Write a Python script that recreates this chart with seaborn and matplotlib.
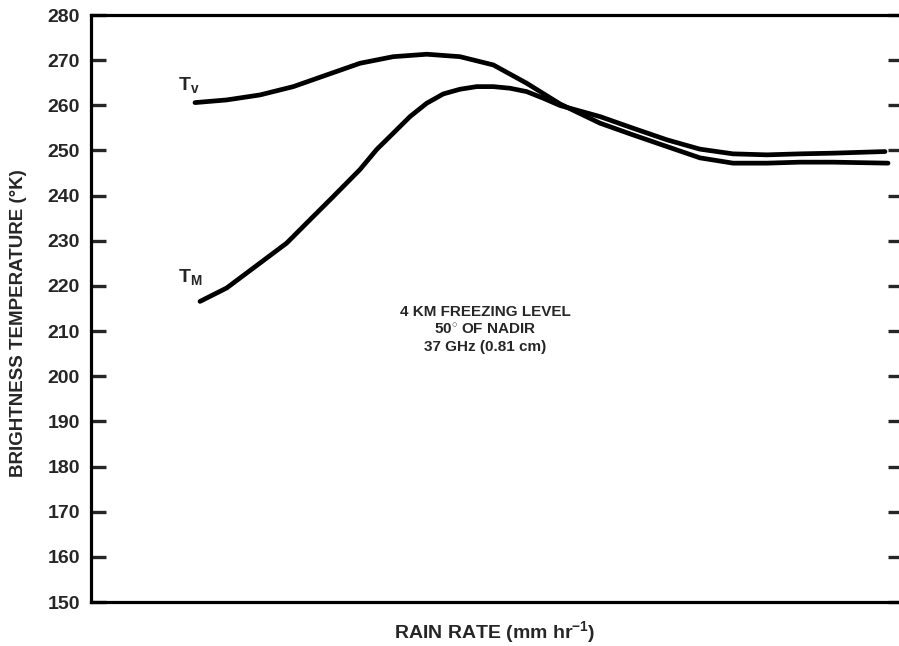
import matplotlib
matplotlib.use("Agg")
import matplotlib.pyplot as plt
import seaborn as sns
import pandas as pd

# Data (x: arbitrary rain-rate units, 0..100 across the axis)
tv_x = [12.87, 16.79, 20.92, 25.04, 29.17, 33.29, 37.41, 41.55, 45.67, 49.79, 53.92, 58.04,
        63.00, 67.08, 71.29, 75.37, 79.46, 83.66, 87.75, 91.83, 98.64]
tv_y = [260.60, 261.19, 262.30, 264.14, 266.73, 269.31, 270.77, 271.31, 270.77, 268.94, 264.89, 260.31,
        256.04, 253.45, 250.86, 248.36, 247.19, 247.19, 247.41, 247.41, 247.19]
tm_x = [13.49, 16.79, 20.92, 24.22, 27.10, 29.99, 33.29, 35.36, 37.41, 39.48, 41.55, 43.60, 45.67,
        47.74, 49.79, 51.86, 53.92, 55.98, 58.04, 63.00, 67.08, 71.29, 75.37, 79.46, 83.66, 87.75,
        91.83, 98.27]
tm_y = [216.57, 219.54, 225.07, 229.49, 234.65, 239.80, 245.78, 250.22, 253.83, 257.50, 260.46, 262.52,
        263.56, 264.14, 264.14, 263.78, 263.03, 261.57, 259.96, 257.50, 254.93, 252.35, 250.29, 249.25,
        249.03, 249.25, 249.40, 249.76]
y_ticks = [150, 160, 170, 180, 190, 200, 210, 220, 230, 240, 250, 260, 270, 280]

sns.set_style("white")
plt.rcParams['font.family'] = ['Liberation Sans', 'DejaVu Sans']
plt.rcParams['mathtext.fontset'] = 'custom'
plt.rcParams['mathtext.rm'] = 'Liberation Sans:bold'
plt.rcParams['mathtext.bf'] = 'Liberation Sans:bold'
plt.rcParams['mathtext.default'] = 'bf'

df = pd.concat([
    pd.DataFrame({"x": tv_x, "y": tv_y, "s": "TV"}),
    pd.DataFrame({"x": tm_x, "y": tm_y, "s": "TM"}),
])

fig = plt.figure(figsize=(8.99, 6.46), dpi=100)
ax = fig.add_axes([91/899, 1-602/646, 1-91/899, (602-15)/646])
sns.lineplot(data=df, x="x", y="y", units="s", estimator=None, sort=False,
             color="black", linewidth=3.4, ax=ax, legend=False)
for ln in ax.lines:
    ln.set_solid_joinstyle('round')
    ln.set_solid_capstyle('round')

ax.set_xlim(0, 100)
ax.set_ylim(150, 280)
ax.set_xticks([])
ax.set_yticks(y_ticks)
ax.set_yticklabels([str(t) for t in y_ticks], fontsize=14, fontweight='bold')
ax.tick_params(axis='y', direction='in', length=11, width=2.4, pad=8,
               left=True, right=True)
for t in ax.yaxis.get_major_ticks():
    t.tick2line.set_markersize(8)

for side in ["left", "top", "bottom"]:
    ax.spines[side].set_linewidth(2.3)
    ax.spines[side].set_color("black")
ax.spines["right"].set_visible(False)

ax.set_ylabel("BRIGHTNESS TEMPERATURE (°K)", fontsize=13.5, fontweight='bold')
ax.yaxis.set_label_coords(-0.079, 0.475)
ax.set_xlabel(r"RAIN RATE (mm hr$^{\mathbf{-1}}$)", fontsize=14, fontweight='bold', labelpad=12)

ax.text(10.8, 264.6, r"T$_{\mathbf{v}}$", fontsize=14, fontweight='bold', ha='left', va='center')
ax.text(10.8, 222.0, r"T$_{\mathbf{M}}$", fontsize=14, fontweight='bold', ha='left', va='center')
ax.text(48.8, 210.3, "4 KM FREEZING LEVEL\n50$^{\\circ}$ OF NADIR\n37 GHz (0.81 cm)",
        fontsize=11, fontweight='bold', ha='center', va='center', linespacing=1.3)

fig.savefig("out.png", dpi=100)
